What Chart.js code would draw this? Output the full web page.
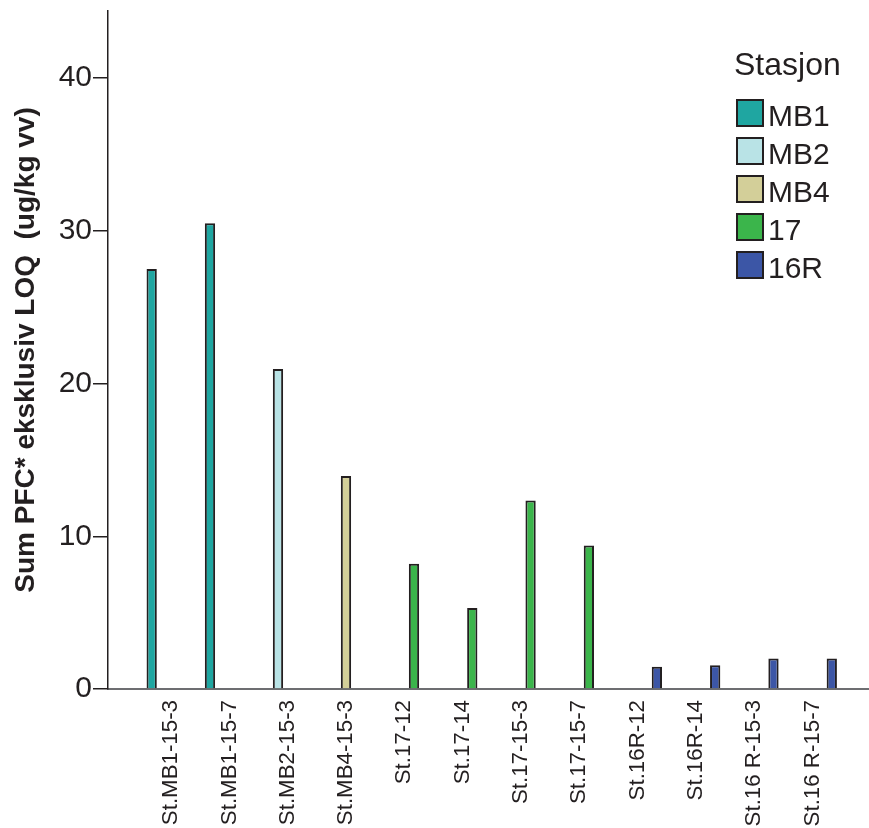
<!DOCTYPE html>
<html>
<head>
<meta charset="utf-8">
<script src="https://cdn.jsdelivr.net/npm/chart.js@4.4.0/dist/chart.umd.min.js"></script>
<style>
html,body{margin:0;padding:0;background:#ffffff;}
#wrap{position:relative;width:869px;height:828px;overflow:hidden;}
#c{position:absolute;left:0;top:0;}
.lgtext{position:absolute;font-family:"Liberation Sans",Arial,Helvetica,sans-serif;color:#231f20;white-space:nowrap;line-height:30px;}
.lgbox{position:absolute;width:24px;height:24px;border:2px solid #231f20;}
</style>
</head>
<body>
<div id="wrap">
  <canvas id="c" width="869" height="828"></canvas>
  <div id="legend"></div>
</div>
<script>
// ---- data ----
const categories = [
  'St.MB1-15-3', 'St.MB1-15-7', 'St.MB2-15-3', 'St.MB4-15-3',
  'St.17-12', 'St.17-14', 'St.17-15-3', 'St.17-15-7',
  'St.16R-12', 'St.16R-14', 'St.16 R-15-3', 'St.16 R-15-7'
];
const stations = ['MB1', 'MB2', 'MB4', '17', '16R'];
const legendTitle = 'Stasjon';
const yTitle = 'Sum PFC* eksklusiv LOQ  (ug/kg vv)';
const yTicks = [0, 10, 20, 30, 40];

const mb1Values = [27.5, 30.5, null, null, null, null, null, null, null, null, null, null];
const mb2Values = [null, null, 20.95, null, null, null, null, null, null, null, null, null];
const mb4Values = [null, null, null, 13.95, null, null, null, null, null, null, null, null];
const st17Values = [null, null, null, null, 8.2, 5.3, 12.35, 9.4, null, null, null, null];
const st16RValues = [null, null, null, null, null, null, null, null, 1.45, 1.55, 2.0, 2.0];

const seriesValues = [mb1Values, mb2Values, mb4Values, st17Values, st16RValues];
const stationColors = ['#1fa6a1', '#b9e3e6', '#d3cf99', '#3bb54b', '#3c56a6'];

// ---- styling ----
const FONT = '"Liberation Sans", Arial, Helvetica, sans-serif';
const INK = '#231f20';

const datasets = stations.map((name, s) => ({
  label: name,
  data: seriesValues[s].map((v, i) => v == null ? null : { x: i, y: v }).filter(p => p !== null),
  backgroundColor: stationColors[s],
  borderColor: INK,
  borderWidth: 2,
  categoryPercentage: 0.832,
  barPercentage: 1.06
}));

new Chart(document.getElementById('c'), {
  type: 'bar',
  data: { datasets },
  options: {
    responsive: false,
    animation: false,
    layout: { padding: { top: 11, right: 1, left: 0, bottom: 0 } },
    plugins: { legend: { display: false }, tooltip: { enabled: false } },
    scales: {
      x: {
        type: 'linear',
        offset: false,
        min: -1.082,
        max: 11.954,
        grid: { display: false, drawTicks: false },
        border: { display: true, color: '#6d6e71', width: 2 },
        afterBuildTicks: (scale) => { scale.ticks = categories.map((_, i) => ({ value: i })); },
        afterFit: (scale) => { scale.height = 139; scale.paddingLeft = 0; scale.paddingRight = 0; },
        ticks: {
          autoSkip: false,
          minRotation: 90,
          maxRotation: 90,
          padding: 11,
          color: INK,
          font: { family: FONT, size: 22.3 },
          callback: (v) => categories[v]
        }
      },
      y: {
        min: 0,
        max: 44.4,
        afterBuildTicks: (scale) => { scale.ticks = yTicks.map(v => ({ value: v })); },
        afterFit: (scale) => { scale.width = 108; scale.paddingTop = 0; scale.paddingBottom = 0; },
        ticks: { padding: 1, color: INK, font: { family: FONT, size: 30 } },
        grid: { display: true, drawOnChartArea: false, drawTicks: true, tickLength: 15, color: INK, lineWidth: 1.5 },
        border: { display: true, color: INK, width: 1.5 },
        title: {
          display: true,
          text: yTitle,
          color: INK,
          font: { family: FONT, size: 28, weight: 'bold' },
          padding: { top: 9, bottom: 0 }
        }
      }
    }
  }
});

// ---- HTML legend (top right) ----
const lg = document.getElementById('legend');
const t = document.createElement('div');
t.className = 'lgtext';
t.style.left = '734px';
t.style.top = '49px';
t.style.fontSize = '32px';
t.textContent = legendTitle;
lg.appendChild(t);
stations.forEach((name, s) => {
  const top = 99 + s * 38;
  const b = document.createElement('div');
  b.className = 'lgbox';
  b.style.left = '736px';
  b.style.top = top + 'px';
  b.style.background = stationColors[s];
  lg.appendChild(b);
  const l = document.createElement('div');
  l.className = 'lgtext';
  l.style.left = '768px';
  l.style.top = (top + 2) + 'px';
  l.style.fontSize = '30px';
  l.textContent = name;
  lg.appendChild(l);
});
</script>
</body>
</html>
